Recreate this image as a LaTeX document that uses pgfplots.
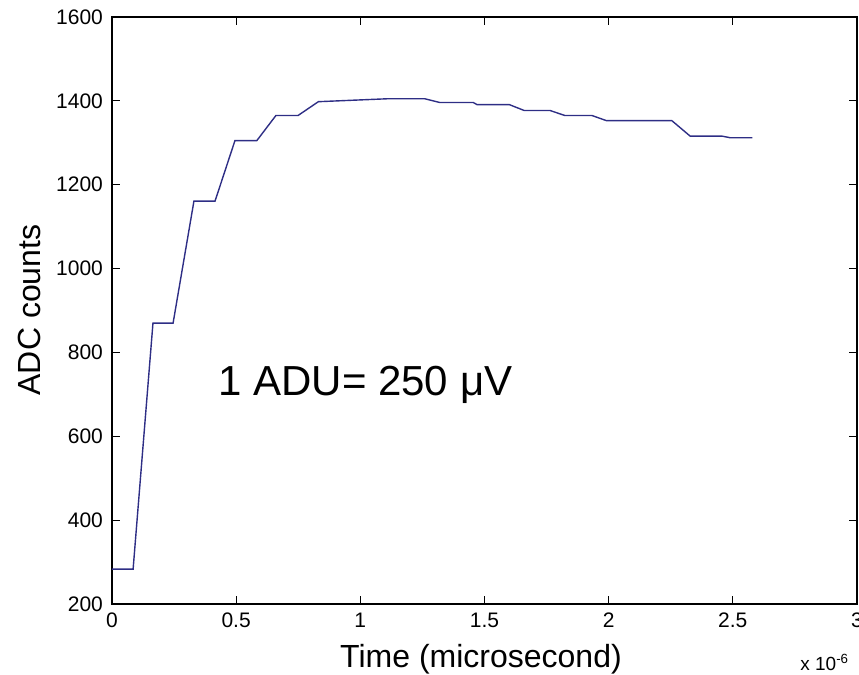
\documentclass[border=0pt]{standalone}
\usepackage{pgfplots}
\pgfplotsset{compat=1.18}
\usepackage{fontspec}
\setmainfont{Liberation Sans}
\definecolor{lineblue}{rgb}{0.18,0.18,0.52}
\begin{document}
\begin{tikzpicture}
\begin{axis}[
  at={(0,0)}, anchor=south west,
  scale only axis,
  width=372.5pt, height=293.5pt,
  xmin=0, xmax=3, ymin=200, ymax=1600,
  xtick={0,0.5,1,1.5,2,2.5,3},
  xticklabels={0,0.5,1,1.5,2,2.5,3},
  ytick={200,400,...,1600},
  yticklabels={200,400,600,800,1000,1200,1400,1600},
  tick align=inside,
  major tick length=4pt,
  tick style={black, line width=0.6pt},
  axis line style={black, line width=0.7pt},
  /pgf/number format/assume math mode=true,
  /pgf/number format/set thousands separator={},
  tick label style={font=\fontsize{10.5}{12}\selectfont},
  xticklabel style={yshift=-1pt},
  yticklabel style={xshift=-1pt},
  clip=false,
]
\addplot[lineblue, line width=0.7pt] coordinates {
(0,283) (0.085,283) (0.165,870) (0.246,870) (0.330,1161) (0.415,1161)
(0.495,1305) (0.583,1305) (0.660,1365) (0.749,1365) (0.831,1398)
(0.95,1401) (1.11,1405) (1.26,1405) (1.32,1396) (1.455,1396)
(1.47,1391) (1.60,1391) (1.66,1377) (1.764,1377) (1.824,1365)
(1.933,1365) (1.99,1353) (2.254,1353) (2.328,1316) (2.455,1316)
(2.49,1312) (2.579,1312)
};
\node[anchor=west, inner sep=0pt, font=\fontsize{21}{25}\selectfont] at (axis cs:0.427,722) {1 ADU= 250 μV};
\end{axis}
\node[anchor=base, inner sep=0pt, font=\fontsize{16}{19}\selectfont] at (184.5pt,-32pt) {Time (microsecond)};
\node[anchor=base west, inner sep=0pt, font=\fontsize{9.5}{11}\selectfont] at (344pt,-33.5pt) {x 10\textsuperscript{-6}};
\node[anchor=base, rotate=90, inner sep=0pt, font=\fontsize{16}{19}\selectfont] at (-35.5pt,147pt) {ADC counts};
\pgfresetboundingbox
\path[use as bounding box] (-56pt,-35.5pt) rectangle (373.5pt,302pt);
\end{tikzpicture}
\end{document}
